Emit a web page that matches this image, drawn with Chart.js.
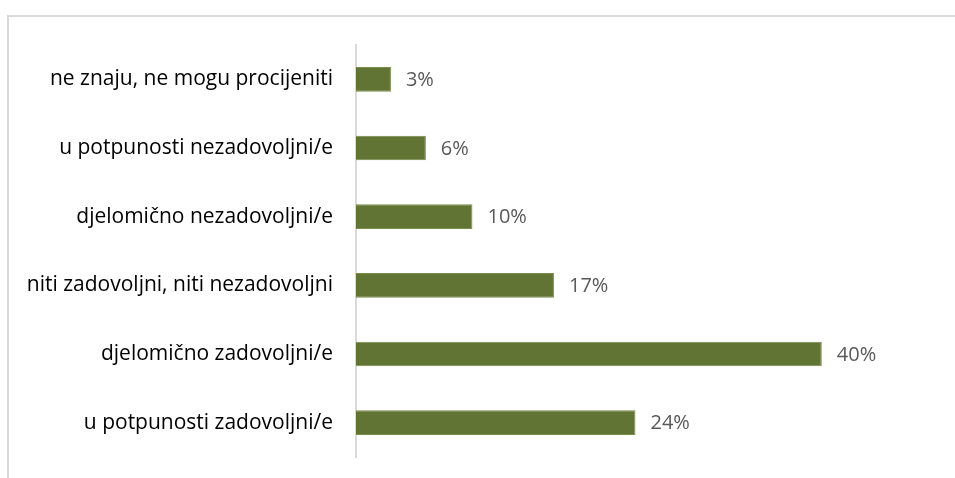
<!DOCTYPE html>
<html>
<head>
<meta charset="utf-8">
<script src="https://cdn.jsdelivr.net/npm/chart.js@4"></script>
<style>
    html, body { margin: 0; padding: 0; background: #fff; }
    .wrap { position: relative; width: 955px; height: 478px; overflow: hidden; }
    .frame { position: absolute; left: 7px; top: 15px; width: 1000px; height: 1000px; border: 2px solid #d9d9d9; box-sizing: border-box; }
    canvas { position: absolute; left: 0; top: 0; }
</style>
</head>
<body>
<div class="wrap">
    <div class="frame"></div>
    <canvas id="chart" width="955" height="478"></canvas>
</div>
<script>
// Satisfaction survey - horizontal bars
const categories = [
    'ne znaju, ne mogu procijeniti',
    'u potpunosti nezadovoljni/e',
    'djelomično nezadovoljni/e',
    'niti zadovoljni, niti nezadovoljni',
    'djelomično zadovoljni/e',
    'u potpunosti zadovoljni/e'
];
const values = [3, 6, 10, 17, 40, 24];
const valueLabels = ['3%', '6%', '10%', '17%', '40%', '24%'];

const FONT = '"Open Sans", sans-serif';

// Draw the percentage next to each bar
const barLabels = {
    id: 'barLabels',
    afterDatasetsDraw(chart) {
        const { ctx } = chart;
        const meta = chart.getDatasetMeta(0);
        ctx.save();
        ctx.font = `20px ${FONT}`;
        ctx.fillStyle = '#595959';
        ctx.textAlign = 'left';
        ctx.textBaseline = 'middle';
        meta.data.forEach((bar, i) => {
            ctx.fillText(valueLabels[i], bar.x + 15, bar.y + 1);
        });
        ctx.restore();
    }
};

new Chart(document.getElementById('chart'), {
    type: 'bar',
    data: {
        labels: categories,
        datasets: [{
            data: values,
            backgroundColor: '#627433',
            borderColor: '#7a8c4a',
            borderWidth: 1,
            borderSkipped: 'left',
            categoryPercentage: 1,
            barPercentage: 0.36
        }]
    },
    options: {
        indexAxis: 'y',
        responsive: false,
        animation: false,
        layout: { padding: { left: 0, right: 75, top: 45, bottom: 21 } },
        plugins: {
            legend: { display: false },
            tooltip: { enabled: false }
        },
        scales: {
            x: {
                display: false,
                min: 0,
                max: 45
            },
            y: {
                afterFit: (scale) => {
                    scale.width = 356;
                    scale.paddingTop = 0;
                    scale.paddingBottom = 0;
                },
                grid: { display: false, drawTicks: false },
                border: { display: true, color: '#d9d9d9', width: 2 },
                ticks: {
                    padding: 23,
                    color: '#000',
                    font: { family: FONT, size: 21 }
                }
            }
        }
    },
    plugins: [barLabels]
});
</script>
</body>
</html>
